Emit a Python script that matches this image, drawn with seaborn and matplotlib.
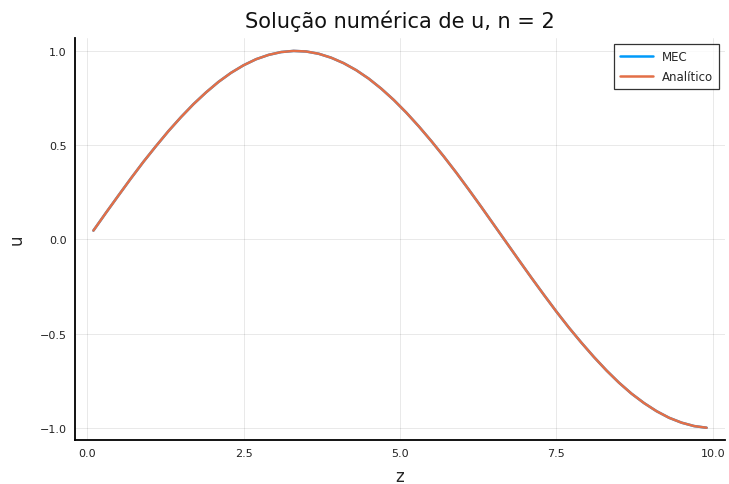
import matplotlib
matplotlib.use("Agg")
import matplotlib.pyplot as plt
import seaborn as sns
import pandas as pd

z = [0.1, 0.3, 0.5, 0.7, 0.9, 1.1, 1.3, 1.5, 1.7, 1.9, 2.1, 2.3, 2.5, 2.7,
     2.9, 3.1, 3.3, 3.5, 3.7, 3.9, 4.1, 4.3, 4.5, 4.7, 4.9, 5.1, 5.3, 5.5,
     5.7, 5.9, 6.1, 6.3, 6.5, 6.7, 6.9, 7.1, 7.3, 7.5, 7.7, 7.9, 8.1, 8.3,
     8.5, 8.7, 8.9, 9.1, 9.3, 9.5, 9.7, 9.9]
u_mec = [0.047, 0.141, 0.233, 0.324, 0.412, 0.495, 0.575, 0.649, 0.718, 0.780,
         0.836, 0.884, 0.924, 0.956, 0.979, 0.994, 1.000, 0.997, 0.985, 0.964,
         0.935, 0.898, 0.853, 0.800, 0.740, 0.673, 0.600, 0.522, 0.440, 0.354,
         0.264, 0.172, 0.078, -0.016, -0.110, -0.203, -0.294, -0.383, -0.468,
         -0.548, -0.624, -0.695, -0.760, -0.818, -0.868, -0.911, -0.946,
         -0.972, -0.990, -0.999]
u_analitico = [0.047, 0.141, 0.233, 0.324, 0.412, 0.495, 0.575, 0.649, 0.718, 0.780,
               0.836, 0.884, 0.924, 0.956, 0.979, 0.994, 1.000, 0.997, 0.985, 0.964,
               0.935, 0.898, 0.853, 0.800, 0.740, 0.673, 0.600, 0.522, 0.440, 0.354,
               0.264, 0.172, 0.078, -0.016, -0.110, -0.203, -0.294, -0.383, -0.468,
               -0.548, -0.624, -0.695, -0.760, -0.818, -0.868, -0.911, -0.946,
               -0.972, -0.990, -0.999]
series = ["MEC", "Analítico"]

df = pd.concat([
    pd.DataFrame({"z": z, "u": u_mec, "s": series[0]}),
    pd.DataFrame({"z": z, "u": u_analitico, "s": series[1]}),
])

sns.set_style("white")
plt.rcParams['font.family'] = ['DejaVu Sans']

fig = plt.figure(figsize=(7.29, 4.85), dpi=100)
ax = fig.add_axes([0.1029, 0.0907, 0.8916, 0.8279])
sns.lineplot(data=df, x="z", y="u", hue="s", hue_order=series,
             palette=["#009AFA", "#E36F47"], linewidth=1.8, ax=ax, sort=False)

ax.set_xlim(-0.194, 10.194)
ax.set_ylim(-1.064, 1.066)
ax.set_xticks([0.0, 2.5, 5.0, 7.5, 10.0])
ax.set_xticklabels(["0.0", "2.5", "5.0", "7.5", "10.0"])
ax.set_yticks([-1.0, -0.5, 0.0, 0.5, 1.0])
ax.set_yticklabels(["\u22121.0", "\u22120.5", "0.0", "0.5", "1.0"])
ax.grid(True, color="#000000", alpha=0.1, linewidth=0.6)
for s in ["top", "right"]:
    ax.spines[s].set_visible(False)
for s in ["left", "bottom"]:
    ax.spines[s].set_color("black")
    ax.spines[s].set_linewidth(1.3)
ax.tick_params(axis="both", labelsize=8, length=3, width=0.6, direction="in",
               colors="black", labelcolor="#222222", pad=6)
ax.set_xlabel("z", fontsize=12, labelpad=6)
ax.set_ylabel("u", fontsize=12, labelpad=10)
ax.set_title("Solução numérica de u, n = 2", fontsize=15, pad=8, color="#111111")

leg = ax.legend(loc="upper right", fontsize=8.5, frameon=True, fancybox=False,
                edgecolor="black", borderaxespad=0.5, handlelength=2.8,
                borderpad=0.5, labelspacing=0.55)
leg.get_frame().set_linewidth(0.9)

fig.savefig("out.png", dpi=100)
